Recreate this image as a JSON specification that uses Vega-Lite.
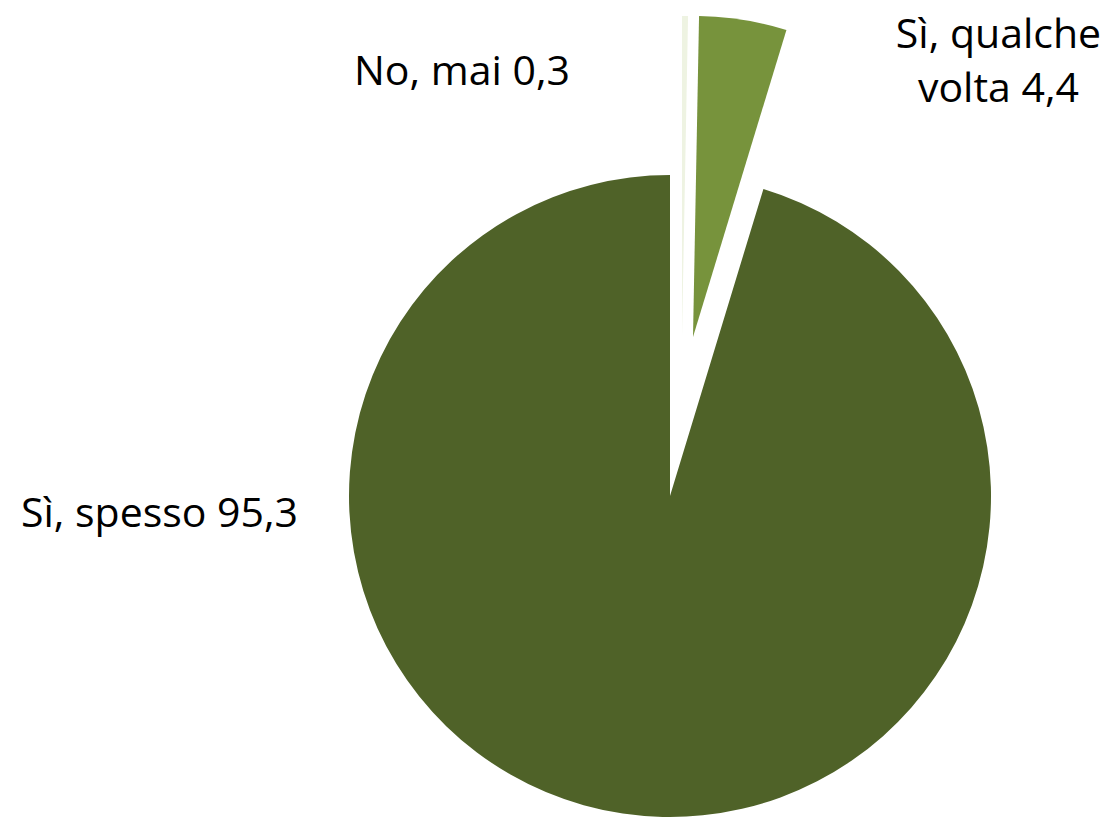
{
  "$schema": "https://vega.github.io/schema/vega-lite/v6.json",
  "width": 642,
  "height": 642,
  "autosize": {"type": "none"},
  "padding": {"left": 349, "top": 175, "right": 120, "bottom": 2},
  "background": "#ffffff",
  "config": {"view": {"stroke": null}},
  "data": {
    "values": [
      {"category": "No, mai", "value": 0.3, "label": "No, mai 0,3"},
      {"category": "Sì, qualche volta", "value": 4.4, "label": "Sì, qualche\nvolta 4,4"},
      {"category": "Sì, spesso", "value": 95.3, "label": "Sì, spesso 95,3"}
    ]
  },
  "transform": [
    {"stack": "value", "groupby": [], "as": ["v0", "v1"]}
  ],
  "layer": [
    {
      "transform": [{"filter": "datum.category === 'Sì, spesso'"}],
      "mark": {"type": "arc", "radius": 321},
      "encoding": {
        "theta": {"field": "v0", "type": "quantitative", "scale": {"domain": [0, 100]}},
        "theta2": {"field": "v1"},
        "color": {"field": "category", "type": "nominal", "legend": null,
          "scale": {"domain": ["No, mai", "Sì, qualche volta", "Sì, spesso"], "range": ["#EEF3E2", "#77933C", "#4F6228"]}}
      }
    },
    {
      "transform": [{"filter": "datum.category === 'Sì, qualche volta'"}],
      "mark": {"type": "arc", "radius": 321, "xOffset": 23, "yOffset": -159},
      "encoding": {
        "theta": {"field": "v0", "type": "quantitative", "scale": {"domain": [0, 100]}},
        "theta2": {"field": "v1"},
        "color": {"field": "category", "type": "nominal", "legend": null}
      }
    },
    {
      "transform": [{"filter": "datum.category === 'No, mai'"}],
      "mark": {"type": "arc", "radius": 321, "xOffset": 12, "yOffset": -159},
      "encoding": {
        "theta": {"field": "v0", "type": "quantitative", "scale": {"domain": [0, 100]}},
        "theta2": {"field": "v1"},
        "color": {"field": "category", "type": "nominal", "legend": null}
      }
    },
    {
      "transform": [{"filter": "datum.category === 'No, mai'"}],
      "mark": {"type": "text", "radius": 411, "dx": -208, "align": "center", "baseline": "alphabetic", "font": "Open Sans", "fontSize": 41, "color": "#000000"},
      "encoding": {
        "theta": {"field": "v0", "type": "quantitative", "scale": {"domain": [0, 100]}},
        "text": {"field": "label"}
      }
    },
    {
      "transform": [{"filter": "datum.category === 'Sì, qualche volta'"}],
      "mark": {"type": "text", "radius": 448, "dx": 320, "align": "center", "baseline": "alphabetic", "lineBreak": "\n", "lineHeight": 54, "font": "Open Sans", "fontSize": 41, "color": "#000000"},
      "encoding": {
        "theta": {"field": "v0", "type": "quantitative", "scale": {"domain": [0, 100]}},
        "text": {"field": "label"}
      }
    },
    {
      "transform": [{"filter": "datum.category === 'Sì, spesso'"}],
      "mark": {"type": "text", "dx": -372, "dy": 31, "align": "right", "baseline": "alphabetic", "font": "Open Sans", "fontSize": 41, "color": "#000000"},
      "encoding": {
        "text": {"field": "label"}
      }
    }
  ]
}
